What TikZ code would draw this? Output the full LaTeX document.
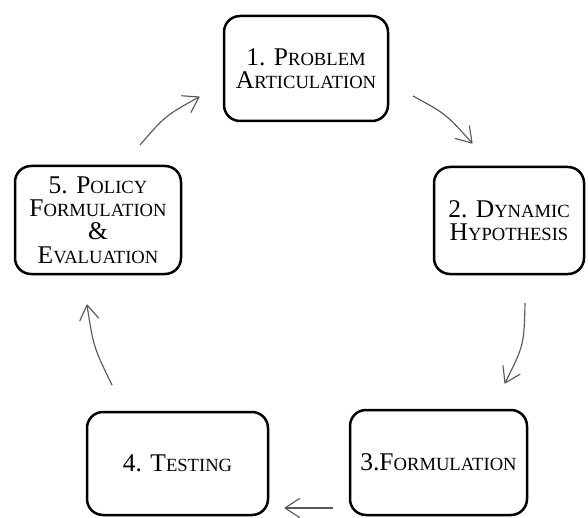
\documentclass[tikz,border=0pt]{standalone}
\usepackage{fontspec}
\setmainfont{Liberation Serif}
\usetikzlibrary{arrows.meta}
% open V arrow head with straight barbs
\pgfdeclarearrow{
  name = VBarb,
  parameters = {\the\pgfarrowlength,\the\pgfarrowwidth},
  setup code = {
    \pgfarrowssettipend{0pt}
    \pgfarrowssetlineend{-0.3\pgflinewidth}
    \pgfarrowsupperhullpoint{-\pgfarrowlength}{0.5\pgfarrowwidth}
    \pgfarrowshullpoint{0pt}{0pt}
    \pgfarrowssavethe\pgfarrowlength
    \pgfarrowssavethe\pgfarrowwidth
  },
  drawing code = {
    \pgfsetdash{}{0pt}
    \pgfsetroundjoin
    \pgfsetroundcap
    \pgfpathmoveto{\pgfpoint{-\pgfarrowlength}{0.5\pgfarrowwidth}}
    \pgfpathlineto{\pgfpointorigin}
    \pgfpathlineto{\pgfpoint{-\pgfarrowlength}{-0.5\pgfarrowwidth}}
    \pgfusepathqstroke
  },
  defaults = {length = 14pt, width = 17pt}
}
% reduced capitals for the small-caps look
\newcommand\lc[1]{{\fontsize{18.6}{18}\selectfont #1}}
\tikzset{
  stage/.style={draw=black, line width=2.5pt, rounded corners=16pt,
    align=center, font=\fontsize{25.5}{23.2}\selectfont,
    inner sep=0pt, outer sep=0pt},
  flow/.style={draw=black!65, line width=1.15pt,
    -{VBarb[length=14.5pt,width=19pt]}}
}
\begin{document}
\begin{tikzpicture}[x=1pt,y=-1pt]
\useasboundingbox (0,0) rectangle (588,518);

% the five stages of the cycle
\node[stage, minimum width=164pt, minimum height=105pt] (n1) at (306,68.5)
  {1. P\lc{ROBLEM}\\A\lc{RTICULATION}};
\node[stage, minimum width=150pt, minimum height=107pt] (n2) at (509,220.5)
  {2. D\lc{YNAMIC}\\H\lc{YPOTHESIS}};
\node[stage, minimum width=177pt, minimum height=105pt] (n3) at (438.5,462.5)
  {3.F\lc{ORMULATION}};
\node[stage, minimum width=181pt, minimum height=103pt] (n4) at (177.5,463.5)
  {4. T\lc{ESTING}};
\node[stage, minimum width=166pt, minimum height=108pt] (n5) at (98,220)
  {5. P\lc{OLICY}\\F\lc{ORMULATION}\\\&\\E\lc{VALUATION}};

% end points of the arrows between the stages
\coordinate (a1s) at (413,96);  \coordinate (a1e) at (472,143);
\coordinate (a2s) at (525,303); \coordinate (a2e) at (505,383);
\coordinate (a3s) at (333,508); \coordinate (a3e) at (285,508);
\coordinate (a4s) at (112,385); \coordinate (a4e) at (87,305);
\coordinate (a5s) at (140,145); \coordinate (a5e) at (199,97);

\draw[flow] (a1s) .. controls (446,114) .. (a1e);
\draw[flow] (a2s) .. controls (524,345) .. (a2e);
\draw[flow] (a3s) -- (a3e);
\draw[flow] (a4s) .. controls (93.5,347) .. (a4e);
\draw[flow] (a5s) .. controls (165,116) .. (a5e);
\end{tikzpicture}
\end{document}
